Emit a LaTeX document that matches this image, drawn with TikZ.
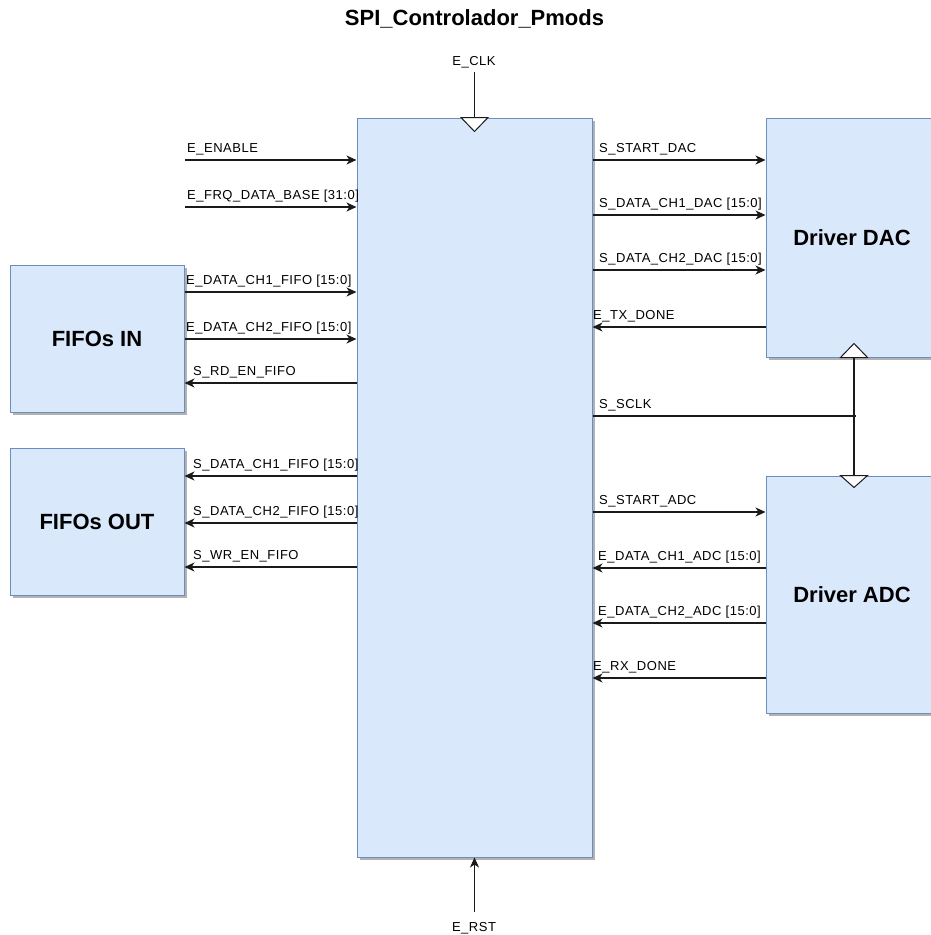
\documentclass[tikz,border=0pt]{standalone}
\usepackage{fontspec}
\setmainfont{Liberation Sans}
\newfontfamily\sigfont{Liberation Sans}[LetterSpace=4]
\usetikzlibrary{arrows.meta,shadows}

\definecolor{blkfill}{HTML}{DAE8FC}
\definecolor{blkline}{HTML}{6C8EBF}
\definecolor{wirecol}{HTML}{1A1A1A}

\tikzset{
  block/.style={rectangle, draw=blkline, fill=blkfill, line width=1pt, inner sep=0pt,
    drop shadow={shadow xshift=3pt, shadow yshift=-3pt, fill=black, opacity=0.3},
    font=\fontsize{22}{24}\selectfont\bfseries},
  sig/.style={draw=wirecol, line width=1.1pt, -{Stealth[length=10pt,width=9pt,inset=3pt]}},
  wire/.style={draw=wirecol, line width=1.1pt},
  siglabel/.style={anchor=base west, inner sep=0pt, font=\sigfont\fontsize{13}{15}\selectfont},
  portlabel/.style={anchor=base, inner sep=0pt, font=\sigfont\fontsize{13}{15}\selectfont},
  clktri/.style={draw=wirecol, fill=white, line width=1pt, line join=miter},
}

\begin{document}
\begin{tikzpicture}[x=1pt,y=-1pt]
\useasboundingbox (0,0) rectangle (931,935);
\clip (0,0) rectangle (931,935);

% title
\node[anchor=base, inner sep=0pt, font=\fontsize{22}{24}\selectfont\bfseries] (title) at (474.5,25) {SPI\_Controlador\_Pmods};

% blocks
\node[block, minimum width=235pt, minimum height=739pt] (ctrl) at (474.5,487.5) {};
\node[block, minimum width=174pt, minimum height=147pt] (fin)  at (97,338.5) {FIFOs IN};
\node[block, minimum width=174pt, minimum height=147pt] (fout) at (97,521.5) {FIFOs OUT};
\node[block, minimum width=172pt, minimum height=239pt] (dac)  at (852,237.5) {Driver DAC};
\node[block, minimum width=172pt, minimum height=237pt] (adc)  at (852,594.5) {Driver ADC};

% free ends of the external ports
\coordinate (enSrc)  at (185,160);
\coordinate (frqSrc) at (185,207);
\coordinate (clkSrc) at (474.5,72);
\coordinate (rstSrc) at (474.5,912);
\coordinate (sclkTap) at (854,416);

% clock input on top
\draw[wire] (clkSrc) -- (clkSrc |- ctrl.north);
\draw[clktri] ([xshift=-13.5pt]clkSrc |- ctrl.north) -- ([xshift=13.5pt]clkSrc |- ctrl.north)
  -- ([yshift=-14pt]clkSrc |- ctrl.north) -- cycle;
\node[portlabel] (clkLbl) at (474,65) {E\_CLK};

% reset input at bottom
\draw[sig] (rstSrc) -- (rstSrc |- ctrl.south);
\node[portlabel] (rstLbl) at (474,931) {E\_RST};

% external inputs
\draw[sig] (enSrc) -- (enSrc -| ctrl.west);
\node[siglabel] (enLbl) at (187,152.5) {E\_ENABLE};
\draw[sig] (frqSrc) -- (frqSrc -| ctrl.west);
\node[siglabel] (frqLbl) at (187,199.5) {E\_FRQ\_DATA\_BASE [31:0]};

% FIFOs IN
\draw[sig] (fin.east |- 0,292) -- (ctrl.west |- 0,292);
\node[siglabel] (fi1Lbl) at (186,284.5) {E\_DATA\_CH1\_FIFO [15:0]};
\draw[sig] (fin.east |- 0,339) -- (ctrl.west |- 0,339);
\node[siglabel] (fi2Lbl) at (186,331.5) {E\_DATA\_CH2\_FIFO [15:0]};
\draw[sig] (ctrl.west |- 0,383) -- (fin.east |- 0,383);
\node[siglabel] (rdLbl) at (193,375.5) {S\_RD\_EN\_FIFO};

% FIFOs OUT
\draw[sig] (ctrl.west |- 0,476) -- (fout.east |- 0,476);
\node[siglabel] (fo1Lbl) at (193,468.5) {S\_DATA\_CH1\_FIFO [15:0]};
\draw[sig] (ctrl.west |- 0,523) -- (fout.east |- 0,523);
\node[siglabel] (fo2Lbl) at (193,515.5) {S\_DATA\_CH2\_FIFO [15:0]};
\draw[sig] (ctrl.west |- 0,567) -- (fout.east |- 0,567);
\node[siglabel] (wrLbl) at (193,559.5) {S\_WR\_EN\_FIFO};

% Driver DAC
\draw[sig] (ctrl.east |- 0,160) -- (dac.west |- 0,160);
\node[siglabel] (sdLbl) at (599,152.5) {S\_START\_DAC};
\draw[sig] (ctrl.east |- 0,215) -- (dac.west |- 0,215);
\node[siglabel] (d1Lbl) at (599,207.5) {S\_DATA\_CH1\_DAC [15:0]};
\draw[sig] (ctrl.east |- 0,270) -- (dac.west |- 0,270);
\node[siglabel] (d2Lbl) at (599,262.5) {S\_DATA\_CH2\_DAC [15:0]};
\draw[sig] (dac.west |- 0,327) -- (ctrl.east |- 0,327);
\node[siglabel] (txLbl) at (593,319.5) {E\_TX\_DONE};

% shared SPI clock
\draw[wire] (ctrl.east |- sclkTap) -- ([xshift=1.5pt]sclkTap);
\draw[wire] (sclkTap |- dac.south) -- (sclkTap |- adc.north);
\node[siglabel] (sclkLbl) at (599,408.5) {S\_SCLK};
\draw[clktri] ([xshift=-13.5pt]sclkTap |- dac.south) -- ([xshift=13.5pt]sclkTap |- dac.south)
  -- ([yshift=14pt]sclkTap |- dac.south) -- cycle;
\draw[clktri] ([xshift=-13.5pt]sclkTap |- adc.north) -- ([xshift=13.5pt]sclkTap |- adc.north)
  -- ([yshift=-12pt]sclkTap |- adc.north) -- cycle;

% Driver ADC
\draw[sig] (ctrl.east |- 0,512) -- (adc.west |- 0,512);
\node[siglabel] (saLbl) at (599,504.5) {S\_START\_ADC};
\draw[sig] (adc.west |- 0,568) -- (ctrl.east |- 0,568);
\node[siglabel] (a1Lbl) at (598,560.5) {E\_DATA\_CH1\_ADC [15:0]};
\draw[sig] (adc.west |- 0,623) -- (ctrl.east |- 0,623);
\node[siglabel] (a2Lbl) at (598,615.5) {E\_DATA\_CH2\_ADC [15:0]};
\draw[sig] (adc.west |- 0,678) -- (ctrl.east |- 0,678);
\node[siglabel] (rxLbl) at (593,670.5) {E\_RX\_DONE};
\end{tikzpicture}
\end{document}
